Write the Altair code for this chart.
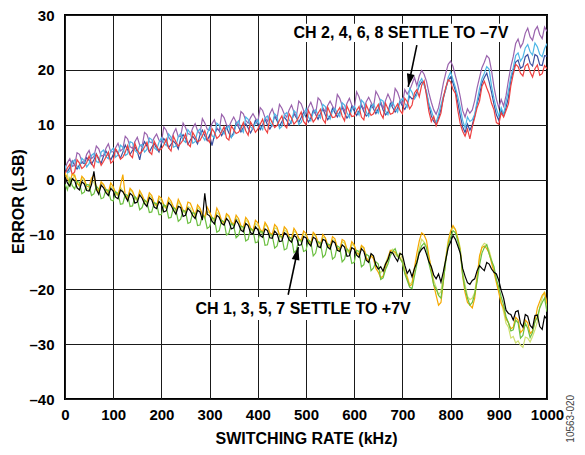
import altair as alt
import pandas as pd

# Switching rate axis (kHz), one reading every 5 kHz
freq_khz = list(range(0, 1001, 5))

# Upper group: CH 2, 4, 6, 8 (settle to -7V)
navy = [2.0, 1.4, 2.2, 3.4, 2.6, 1.9, 2.7, 3.1, 2.9, 4.0, 3.5, 2.8, 3.6, 4.7, 3.6, 3.0, 4.3, 5.2, 4.4, 3.6,
        4.5, 5.5, 4.7, 3.9, 5.0, 6.3, 5.4, 4.6, 5.3, 6.0, 5.1, 3.6, 5.8, 6.9, 6.1, 5.0, 5.9, 6.6, 5.7, 5.0,
        6.6, 7.5, 6.8, 5.8, 6.4, 7.0, 6.5, 5.6, 7.5, 8.2, 7.5, 6.4, 7.2, 7.9, 7.3, 6.5, 8.1, 9.0, 8.0, 7.1,
        8.1, 6.2, 8.1, 9.3, 8.9, 8.0, 8.9, 9.6, 8.5, 7.7, 8.6, 10.4, 9.6, 8.7, 9.5, 10.2, 9.4, 8.5, 9.4, 10.8,
        10.0, 9.1, 10.0, 11.0, 10.0, 9.2, 10.0, 11.6, 10.7, 9.7, 10.6, 11.4, 10.8, 9.9, 10.7, 12.0, 11.3, 10.4, 11.3, 12.3,
        11.4, 10.5, 11.2, 12.6, 11.9, 11.0, 12.0, 12.9, 11.8, 10.9, 11.6, 13.0, 12.2, 11.4, 12.3, 13.2, 12.1, 11.2, 11.8, 13.4,
        12.5, 11.7, 12.5, 13.5, 12.4, 11.6, 12.0, 13.6, 12.9, 12.0, 12.9, 14.0, 12.7, 11.8, 12.3, 13.9, 13.1, 12.3, 13.0, 14.3,
        13.4, 12.8, 13.7, 15.2, 14.7, 15.0, 15.9, 17.1, 17.8, 17.6, 15.7, 13.6, 11.6, 10.6, 10.1, 11.2, 12.8, 14.8, 16.6, 18.1,
        18.7, 17.6, 16.2, 14.0, 11.7, 9.6, 8.6, 10.1, 9.0, 10.0, 11.6, 13.8, 15.4, 17.6, 18.6, 19.4, 17.8, 15.9, 13.7, 11.8,
        10.8, 12.6, 11.6, 13.1, 15.0, 18.2, 19.8, 21.4, 21.8, 20.3, 20.6, 22.4, 22.8, 21.2, 20.7, 22.8, 22.5, 20.9, 20.8, 22.6,
        22.5]
purple = [2.0, 3.1, 3.8, 2.4, 2.6, 4.9, 4.6, 3.3, 3.2, 4.6, 5.3, 3.8, 4.2, 6.1, 5.6, 4.3, 4.4, 5.7, 6.5, 5.0,
          5.1, 5.8, 6.6, 5.2, 5.6, 7.9, 7.4, 6.0, 5.7, 6.9, 7.7, 6.3, 6.0, 8.6, 8.2, 6.9, 6.7, 7.6, 8.3, 7.2,
          6.8, 9.6, 9.0, 7.7, 7.1, 8.4, 9.3, 7.8, 7.9, 10.3, 9.5, 8.4, 8.2, 9.4, 10.2, 8.9, 8.3, 11.1, 10.3, 9.2,
          9.0, 10.2, 10.9, 9.4, 8.9, 11.9, 11.3, 10.0, 9.6, 10.6, 11.4, 10.5, 9.7, 12.4, 12.0, 10.8, 10.3, 11.3, 12.0, 11.2,
          10.5, 13.1, 12.6, 11.3, 10.6, 12.0, 12.9, 11.6, 11.2, 13.7, 13.0, 11.9, 11.4, 12.7, 13.6, 12.3, 11.5, 14.3, 13.8, 12.6,
          12.0, 13.2, 14.1, 12.9, 12.0, 14.9, 14.4, 13.1, 12.4, 13.5, 14.3, 13.4, 12.6, 15.5, 14.8, 13.5, 12.5, 13.9, 14.8, 13.6,
          12.9, 16.0, 15.1, 13.7, 12.8, 14.2, 15.0, 14.1, 13.2, 16.1, 15.3, 14.2, 13.0, 14.4, 15.6, 14.6, 13.4, 16.6, 15.9, 14.6,
          13.8, 16.4, 15.6, 16.3, 17.4, 18.6, 17.1, 18.9, 19.9, 19.2, 17.9, 15.8, 14.1, 12.7, 11.9, 13.1, 15.2, 17.6, 19.4, 21.0,
          21.6, 20.6, 18.9, 17.2, 15.1, 12.6, 11.4, 12.9, 12.1, 12.7, 14.4, 16.7, 18.6, 20.4, 21.4, 22.6, 22.1, 19.8, 16.9, 14.6,
          13.1, 14.6, 13.4, 15.3, 18.1, 20.6, 22.4, 24.8, 25.6, 24.1, 24.9, 26.7, 27.6, 26.0, 25.4, 27.2, 27.9, 26.4, 25.7, 27.8,
          27.0]
blue = [2.6, 1.2, 1.5, 3.1, 3.6, 2.4, 2.0, 3.9, 3.4, 2.3, 2.9, 4.4, 4.8, 3.3, 3.1, 5.0, 5.4, 4.2, 3.8, 5.2,
        5.7, 4.1, 4.5, 6.3, 5.9, 4.4, 4.7, 6.9, 6.7, 5.3, 4.9, 6.2, 6.4, 5.0, 5.5, 7.6, 7.3, 5.8, 5.4, 6.8,
        7.6, 6.7, 6.2, 8.3, 7.7, 5.9, 6.1, 7.8, 8.4, 7.2, 6.8, 9.1, 8.5, 6.6, 6.9, 8.8, 9.2, 7.9, 7.2, 8.4,
        9.5, 8.0, 7.6, 10.3, 9.9, 8.8, 8.3, 9.4, 9.8, 7.7, 8.2, 10.1, 10.7, 9.3, 8.6, 11.4, 11.0, 9.6, 9.2, 10.3,
        10.9, 9.6, 9.1, 11.2, 11.6, 10.4, 9.8, 12.0, 11.5, 9.3, 9.7, 11.8, 12.2, 10.9, 10.3, 12.6, 12.1, 10.0, 10.4, 11.6,
        12.9, 11.4, 10.7, 12.2, 12.7, 11.8, 11.2, 13.7, 13.3, 11.6, 11.0, 12.5, 13.0, 12.1, 11.5, 14.0, 13.6, 12.2, 11.3, 12.8,
        13.4, 12.6, 11.8, 14.5, 14.0, 12.3, 11.5, 13.1, 13.8, 12.7, 12.1, 14.6, 14.3, 12.5, 11.8, 13.4, 14.1, 13.0, 12.3, 14.2,
        14.8, 13.9, 13.2, 16.6, 15.9, 14.7, 15.4, 17.7, 18.4, 17.2, 16.1, 13.8, 12.6, 11.2, 10.4, 11.9, 13.6, 15.2, 16.4, 18.6,
        19.6, 18.2, 16.8, 15.1, 13.2, 10.8, 9.4, 11.4, 10.6, 10.9, 11.9, 14.3, 16.6, 18.4, 19.4, 20.6, 20.1, 17.0, 14.8, 12.9,
        11.6, 13.1, 11.9, 14.2, 16.2, 18.8, 20.4, 22.6, 23.1, 21.6, 22.3, 24.0, 24.6, 23.3, 22.7, 24.9, 24.2, 22.8, 22.4, 23.9,
        24.8]
red = [1.0, 2.1, 2.8, 0.9, 1.4, 3.6, 3.0, 2.0, 2.4, 3.1, 4.3, 3.0, 2.2, 4.6, 3.9, 2.6, 3.3, 4.1, 5.0, 3.0,
       3.4, 5.6, 4.9, 3.7, 4.1, 5.0, 6.2, 4.5, 4.0, 6.6, 5.4, 4.7, 5.2, 5.9, 6.8, 5.1, 4.6, 7.0, 6.1, 5.3,
       5.6, 6.3, 7.4, 5.8, 5.2, 7.9, 6.9, 6.1, 6.6, 7.2, 8.3, 6.5, 6.0, 8.6, 7.8, 6.9, 7.1, 8.0, 8.9, 7.4,
       6.8, 9.3, 8.6, 7.5, 7.9, 8.7, 9.6, 7.6, 7.2, 9.8, 9.1, 8.4, 8.6, 9.3, 10.4, 8.9, 8.1, 10.5, 9.7, 8.6,
       9.2, 10.1, 11.0, 9.2, 8.5, 11.3, 10.3, 9.5, 9.9, 10.8, 11.6, 9.9, 9.4, 12.0, 11.2, 10.1, 10.6, 11.4, 12.3, 10.6,
       10.0, 12.6, 11.7, 10.5, 11.1, 12.1, 12.8, 11.0, 10.3, 13.2, 12.2, 11.3, 11.4, 12.4, 13.1, 11.6, 10.7, 13.4, 12.4, 11.5,
       11.6, 12.6, 13.3, 11.4, 10.9, 13.6, 12.6, 11.7, 12.0, 12.9, 13.7, 12.0, 11.2, 13.9, 12.9, 11.9, 12.1, 13.0, 13.8, 12.6,
       12.0, 14.8, 14.2, 12.9, 13.6, 15.8, 16.4, 15.1, 17.2, 18.0, 15.3, 12.4, 10.6, 11.5, 9.8, 10.9, 12.1, 15.0, 16.8, 18.2,
       17.8, 16.4, 15.7, 12.6, 10.2, 8.8, 7.9, 9.2, 7.4, 9.6, 11.3, 13.1, 14.3, 17.0, 17.9, 16.7, 15.6, 13.9, 12.7, 10.4,
       10.1, 12.2, 11.4, 12.6, 13.8, 17.1, 19.2, 21.0, 20.6, 19.4, 18.9, 20.7, 21.1, 19.6, 18.7, 20.2, 20.9, 19.0, 19.3, 20.8,
       20.2]

# Lower group: CH 1, 3, 5, 7 (settle to +7V)
yellowgreen = [0.3, 0.9, -1.1, -0.2, 0.9, -0.6, -1.3, 0.2, -0.3, -1.6, -1.9, -0.2, -0.5, -1.7, -2.4, -0.6, -0.9, -2.1, -2.6, -1.2,
               -1.7, -2.6, -3.0, -1.4, -2.1, -3.3, -3.7, -1.9, -2.3, -3.5, -3.9, -2.4, -3.0, -4.2, -4.6, -2.9, -3.3, -4.4, -4.9, -3.4,
               -3.9, -4.8, -5.3, -3.8, -4.3, -5.5, -6.0, -4.2, -4.6, -5.8, -6.2, -4.9, -5.2, -6.4, -6.9, -5.1, -5.5, -6.6, -7.1, -5.8,
               -6.1, -7.2, -7.6, -6.0, -6.4, -7.9, -8.3, -6.5, -6.8, -8.0, -8.5, -7.0, -7.5, -8.8, -9.2, -7.4, -7.8, -9.0, -9.5, -8.0,
               -8.4, -9.5, -9.9, -8.2, -8.6, -10.1, -10.5, -8.8, -9.0, -10.2, -10.7, -9.2, -9.5, -10.9, -11.3, -9.4, -9.7, -10.9, -11.4, -9.9,
               -10.2, -11.3, -11.8, -10.0, -10.3, -11.8, -12.3, -10.5, -10.6, -12.0, -12.5, -10.9, -11.2, -12.7, -13.1, -11.3, -11.6, -13.0, -13.5, -11.8,
               -12.1, -13.4, -13.9, -12.2, -12.5, -14.2, -14.9, -13.6, -14.1, -15.7, -16.1, -17.0, -16.4, -15.2, -14.1, -13.0, -12.7, -13.6, -14.1, -13.3,
               -14.4, -16.2, -17.6, -19.1, -18.7, -16.3, -14.6, -12.6, -10.9, -11.4, -12.1, -14.2, -15.9, -18.4, -19.6, -21.0, -20.4, -17.2, -14.1, -11.0,
               -9.4, -8.7, -9.1, -10.6, -12.4, -16.8, -19.1, -21.3, -21.9, -21.6, -20.6, -17.4, -14.4, -12.2, -11.6, -11.9, -12.9, -14.6, -16.6, -18.4,
               -19.9, -22.4, -24.1, -26.2, -26.9, -28.9, -28.6, -29.8, -29.4, -30.2, -30.6, -28.7, -28.9, -29.6, -28.6, -27.4, -25.9, -23.2, -21.6, -20.4,
               -23.4]
orange = [1.2, 0.1, -0.4, 1.0, 0.7, -0.6, -1.1, 0.6, 0.1, -1.2, -1.4, 0.3, 0.8, -1.5, -2.1, -0.4, -0.9, -1.8, -2.3, -0.6,
          -1.3, -2.4, -2.8, -1.1, 0.9, -2.9, -3.4, -1.6, -2.1, -3.2, -3.7, -2.0, -2.8, -3.9, -4.1, -2.4, -2.9, -4.2, -4.8, -3.0,
          -3.4, -4.6, -5.2, -3.3, -3.9, -5.0, -5.5, -3.6, -4.5, -5.6, -5.9, -4.1, -4.3, -5.4, -6.6, -4.6, -5.2, -6.3, -6.8, -5.0,
          -5.9, -6.9, -7.3, -5.2, -6.1, -7.5, -8.0, -6.2, -6.6, -7.7, -8.2, -6.5, -7.1, -8.4, -8.7, -6.9, -7.5, -8.8, -9.3, -7.4,
          -7.9, -9.1, -9.6, -7.8, -8.5, -9.7, -10.0, -8.2, -8.7, -10.1, -10.6, -8.6, -9.1, -10.4, -10.8, -8.9, -9.6, -10.7, -11.1, -9.4,
          -9.8, -11.1, -11.7, -9.6, -10.1, -11.4, -11.8, -10.0, -10.6, -11.9, -12.2, -10.4, -10.8, -12.4, -12.8, -10.9, -11.2, -12.7, -13.2, -11.3,
          -11.9, -13.3, -13.7, -12.0, -12.4, -14.2, -14.9, -13.9, -14.4, -16.2, -16.9, -17.9, -17.6, -16.0, -14.4, -12.9, -13.1, -13.2, -13.9, -14.2,
          -15.1, -16.9, -17.9, -19.4, -19.1, -16.1, -13.4, -11.2, -9.7, -10.1, -11.1, -13.9, -16.4, -19.2, -21.1, -22.9, -22.4, -18.6, -14.6, -11.6,
          -9.4, -8.4, -9.1, -10.8, -12.9, -17.6, -20.6, -22.4, -22.9, -23.4, -21.6, -17.9, -13.9, -12.4, -12.1, -12.6, -13.4, -15.2, -16.9, -18.8,
          -20.6, -22.6, -23.4, -25.4, -26.1, -27.2, -26.9, -25.1, -25.6, -27.9, -27.4, -25.6, -26.1, -28.1, -27.6, -25.9, -23.4, -22.2, -21.1, -20.6,
          -22.6]
green = [-0.8, -1.9, 0.2, -1.1, -1.7, -0.3, -0.5, -2.6, -2.3, -0.9, -1.0, -2.9, -2.6, -1.2, -1.7, -3.5, -3.3, -1.8, -2.0, -3.7,
         -3.9, -2.2, -2.5, -4.5, -4.4, -2.7, -2.9, -4.9, -4.8, -3.1, -3.6, -5.5, -5.1, -3.7, -4.1, -6.0, -5.9, -4.2, -4.4, -6.4,
         -6.4, -4.6, -4.9, -7.0, -6.9, -5.1, -5.5, -7.6, -7.2, -5.6, -5.8, -8.0, -7.8, -6.0, -6.2, -8.4, -8.3, -6.5, -6.9, -8.9,
         -8.6, -6.9, -7.2, -9.6, -9.3, -7.4, -7.7, -10.1, -9.8, -8.0, -8.4, -10.6, -10.2, -8.5, -8.7, -11.2, -10.9, -8.9, -9.2, -11.5,
         -11.4, -9.4, -9.6, -12.0, -11.9, -9.9, -10.2, -12.5, -12.1, -10.2, -10.4, -12.8, -12.6, -10.5, -10.7, -13.3, -12.9, -10.9, -11.2, -13.1,
         -12.9, -11.0, -11.4, -13.9, -13.4, -11.3, -11.5, -14.2, -13.7, -11.7, -11.9, -14.5, -14.1, -12.1, -12.4, -15.0, -14.5, -12.6, -13.1, -15.3,
         -15.1, -12.9, -13.1, -15.9, -15.5, -13.6, -13.9, -16.6, -16.1, -15.0, -15.4, -18.2, -17.9, -16.4, -15.4, -13.9, -13.1, -12.6, -13.9, -14.4,
         -15.1, -17.2, -18.4, -19.6, -19.9, -17.6, -15.4, -13.1, -12.1, -11.6, -12.4, -15.3, -17.1, -19.2, -19.9, -21.1, -21.6, -18.4, -14.9, -12.1,
         -10.6, -9.3, -9.7, -11.2, -13.1, -17.4, -19.9, -21.6, -22.9, -22.4, -20.9, -18.6, -15.6, -13.4, -12.4, -11.9, -13.6, -14.8, -15.9, -18.2,
         -19.6, -21.4, -22.9, -25.0, -26.1, -27.6, -27.4, -25.6, -26.1, -28.9, -28.4, -26.2, -27.1, -28.8, -27.9, -25.9, -25.1, -23.4, -22.4, -21.6,
         -24.1]
black = [0.5, -0.6, -1.2, 0.2, -0.2, -1.5, -1.9, -0.4, -0.8, -2.0, -2.1, -0.9, 1.5, -1.8, -2.7, -1.0, -1.5, -2.4, -2.9, -1.6,
         -2.1, -3.2, -3.5, -1.9, -2.2, -3.0, -3.9, -2.5, -2.9, -4.3, -4.1, -2.8, -3.4, -4.4, -4.9, -3.3, -3.7, -5.0, -5.3, -4.0,
         -4.5, -5.9, -5.7, -4.2, -4.7, -5.6, -6.3, -4.9, -5.1, -6.7, -6.5, -5.2, -5.7, -6.6, -7.1, -5.6, -5.9, -7.4, -2.5, -6.3,
         -6.6, -7.6, -8.1, -6.5, -6.9, -8.0, -8.3, -7.1, -7.6, -9.0, -8.8, -7.4, -8.1, -9.2, -9.5, -8.0, -8.4, -9.7, -9.9, -8.6,
         -9.1, -10.2, -10.5, -9.0, -9.3, -10.6, -10.7, -9.4, -9.9, -11.3, -11.2, -9.7, -10.0, -11.0, -11.4, -10.2, -10.5, -12.0, -11.9, -10.4,
         -10.6, -11.6, -12.1, -10.5, -10.8, -12.2, -12.4, -10.9, -11.1, -12.3, -12.7, -11.2, -11.5, -12.9, -13.1, -11.9, -12.3, -14.0, -13.9, -12.4,
         -12.7, -13.8, -14.2, -12.6, -13.1, -14.7, -15.1, -13.5, -13.9, -15.6, -16.3, -15.9, -16.7, -15.4, -14.6, -13.2, -13.4, -14.2, -14.9, -13.5,
         -13.7, -15.6, -17.1, -16.4, -17.7, -16.2, -15.1, -13.4, -12.7, -12.3, -13.6, -15.0, -15.9, -17.4, -18.1, -17.2, -18.7, -16.8, -14.6, -12.4,
         -11.4, -10.2, -10.9, -12.1, -13.4, -16.2, -17.6, -18.8, -19.1, -18.4, -18.1, -16.6, -15.7, -16.2, -16.6, -15.1, -15.4, -16.3, -16.9, -17.2,
         -18.4, -20.2, -21.6, -23.8, -24.4, -24.6, -25.6, -24.1, -23.9, -26.2, -26.9, -24.6, -24.9, -26.6, -27.1, -24.8, -24.7, -26.8, -27.3, -24.9,
         -25.5]

series = [
    ("navy", navy, "#3a4fa0"),
    ("purple", purple, "#9a63ad"),
    ("blue", blue, "#4db6e6"),
    ("red", red, "#ee4040"),
    ("yellowgreen", yellowgreen, "#cfe070"),
    ("orange", orange, "#f5a800"),
    ("green", green, "#6abf3f"),
    ("black", black, "#000000"),
]
for name, vals, _ in series:
    assert len(vals) == len(freq_khz), (name, len(vals))

rows = []
for name, vals, _ in series:
    for f, v in zip(freq_khz, vals):
        rows.append({"series": name, "freq": f, "err": v})
df = pd.DataFrame(rows)

# Annotations (data units)
ann_text = ["CH 2, 4, 6, 8 SETTLE TO \u20137V", "CH 1, 3, 5, 7 SETTLE TO +7V"]
ann_x = [697, 494]
ann_y = [26.8, -23.6]
box_x = [467, 259]
box_x2 = [927, 726]
box_y = [25.1, -25.6]
box_y2 = [28.4, -21.4]
arrow_tail_x = [730, 463]
arrow_tail_y = [24.5, -21.0]
arrow_tip_x = [712, 484]
arrow_tip_y = [16.9, -12.3]
arrow_angle = [191.4, 12.1]

ann_df = pd.DataFrame({"label": ann_text, "ax": ann_x, "ay": ann_y,
                       "bx": box_x, "bx2": box_x2, "by": box_y, "by2": box_y2,
                       "tx": arrow_tail_x, "ty": arrow_tail_y,
                       "hx": arrow_tip_x, "hy": arrow_tip_y, "ang": arrow_angle})
code_df = pd.DataFrame({"label": ["10563-020"], "cx": [1050], "cy": [-43.6]})

FONT = "Liberation Sans"
x_axis = alt.Axis(values=list(range(0, 1001, 100)), title="SWITCHING RATE (kHz)",
                  format="d", labelFlush=False, labelOverlap=False, labelPadding=8,
                  titleY=39, titleBaseline="middle")
y_axis = alt.Axis(values=list(range(-40, 31, 10)), title="ERROR (LSB)",
                  labelExpr="datum.value < 0 ? '\u2013' + abs(datum.value) : datum.label",
                  labelPadding=11, titleX=-47, titleY=186, titleAngle=270,
                  titleBaseline="middle", titleAlign="center")
xs = alt.Scale(domain=[0, 1000], nice=False)
ys = alt.Scale(domain=[-40, 30], nice=False)


def X(field):
    return alt.X(f"{field}:Q", scale=xs, axis=x_axis)


def Y(field):
    return alt.Y(f"{field}:Q", scale=ys, axis=y_axis)


layers = []
for name, _, col in series:
    layers.append(
        alt.Chart(df).transform_filter(alt.datum.series == name)
        .mark_line(color=col, strokeWidth=1.2, clip=True)
        .encode(x=X("freq"), y=Y("err"))
    )

boxes = alt.Chart(ann_df).mark_rect(color="white", opacity=1).encode(
    x=X("bx"), x2="bx2", y=Y("by"), y2="by2")
texts = alt.Chart(ann_df).mark_text(font=FONT, fontSize=16, fontWeight="bold",
                                    color="black", align="center", baseline="middle").encode(
    x=X("ax"), y=Y("ay"), text="label:N")
rules = alt.Chart(ann_df).mark_rule(color="black", strokeWidth=1.6).encode(
    x=X("tx"), y=Y("ty"), x2="hx", y2="hy")
heads = alt.Chart(ann_df).mark_point(shape="M0,0 L0.6,2 L-0.6,2 Z", filled=True,
                                     color="black", size=169, opacity=1, strokeWidth=0).encode(
    x=X("hx"), y=Y("hy"), angle=alt.Angle("ang:Q", scale=None))
code = alt.Chart(code_df).mark_text(font=FONT, fontSize=10, color="#444444", angle=270,
                                    align="center", baseline="middle").encode(
    x=X("cx"), y=Y("cy"), text="label:N")

chart = alt.layer(*layers, boxes, texts, rules, heads, code).properties(
    width=482, height=384,
    padding={"left": 57, "top": 7, "right": 30, "bottom": 48},
    autosize=alt.AutoSizeParams(type="none"),
).configure_axis(
    labelFont=FONT, labelFontSize=15, labelFontWeight="bold", labelColor="black",
    titleFont=FONT, titleFontSize=16, titleFontWeight="bold", titleColor="black",
    grid=True, gridColor="#1a1a1a", gridWidth=1, gridOpacity=1,
    ticks=False, domain=False,
).configure_view(stroke="black", strokeWidth=2)

chart.save("out.html", embed_options={"renderer": "svg", "actions": False})
